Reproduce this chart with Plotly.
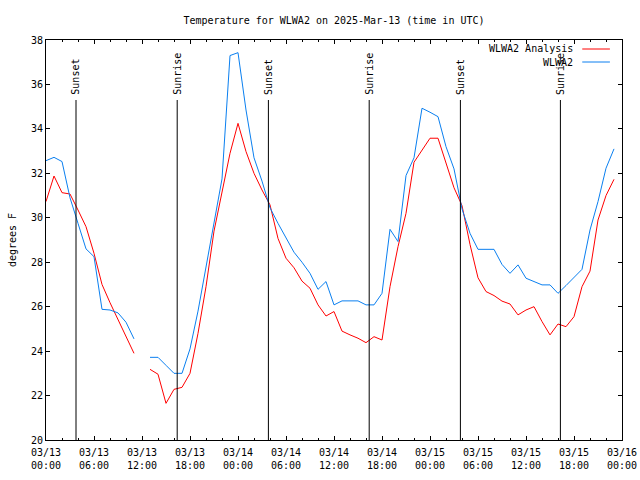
import plotly.graph_objects as go
import pandas as pd

# ---- data (hours since 2025-03-13 00:00 UTC) ----
hours = list(range(72))

analysis_f = [30.73, 31.88, 31.13, 31.07, 30.35, 29.6, 28.4, 27.0, 26.18, 25.4,
              24.65, 23.9, None, 23.18, 22.96, 21.65, 22.28, 22.37, 23.0, 24.8,
              26.9, 29.4, 31.15, 32.9, 34.25, 32.98, 32.0, 31.25, 30.58, 29.07,
              28.18, 27.75, 27.15, 26.83, 26.08, 25.58, 25.78, 24.9, 24.73, 24.58,
              24.38, 24.65, 24.5, 26.9, 28.7, 30.2, 32.5, 33.05, 33.58, 33.58,
              32.5, 31.35, 30.55, 28.8, 27.3, 26.68, 26.5, 26.25, 26.12, 25.63,
              25.85, 26.0, 25.33, 24.73, 25.22, 25.1, 25.55, 26.9, 27.6, 29.9,
              31.0, 31.73]

observed_f = [32.57, 32.72, 32.53, 30.9, 29.75, 28.6, 28.25, 25.88, 25.85, 25.72,
              25.3, 24.55, None, 23.72, 23.72, 23.36, 23.0, 23.0, 24.1, 25.8,
              27.8, 29.8, 31.75, 37.3, 37.43, 34.85, 32.7, 31.65, 30.45, 29.75,
              29.1, 28.45, 28.0, 27.5, 26.78, 27.13, 26.08, 26.26, 26.26, 26.26,
              26.08, 26.08, 26.6, 29.48, 28.93, 31.9, 32.7, 34.93, 34.75, 34.55,
              33.2, 32.2, 30.4, 29.3, 28.58, 28.58, 28.58, 27.9, 27.5, 27.88,
              27.28, 27.13, 26.98, 26.98, 26.6, 26.95, 27.3, 27.68, 29.45, 30.73,
              32.23, 33.1]

event_hours = [3.75, 16.4, 27.8, 40.4, 51.8, 64.3]
event_labels = ["Sunset", "Sunrise", "Sunset", "Sunrise", "Sunset", "Sunrise"]

series_names = ["WLWA2 Analysis", "WLWA2"]
series_colors = ["#ff0000", "#0a7ff0"]

base = pd.Timestamp("2025-03-13 00:00")
times = [base + pd.Timedelta(hours=h) for h in hours]
event_times = [base + pd.Timedelta(hours=h) for h in event_hours]

FONT = "DejaVu Sans Mono"

fig = go.Figure()
for name, vals, col in zip(series_names, [analysis_f, observed_f], series_colors):
    fig.add_trace(go.Scatter(x=times, y=vals, mode="lines", name=name,
                             line=dict(color=col, width=1), connectgaps=False,
                             showlegend=False))

shapes = []
annotations = []
for t, lab in zip(event_times, event_labels):
    shapes.append(dict(type="line", xref="x", yref="y", x0=t, x1=t, y0=20, y1=35.3,
                       line=dict(color="black", width=1)))
    annotations.append(dict(x=t, y=35.45, xref="x", yref="y", text=lab, textangle=-90,
                            showarrow=False, xanchor="center", yanchor="bottom",
                            font=dict(family=FONT, size=10, color="black")))

# legend (gnuplot style: text then sample line on the right)
leg_y = [0.9775, 0.945]
for name, col, ly in zip(series_names, series_colors, leg_y):
    annotations.append(dict(x=0.9184, y=ly, xref="paper", yref="paper", text=name,
                            showarrow=False, xanchor="right", yanchor="middle",
                            font=dict(family=FONT, size=10, color="black")))
    shapes.append(dict(type="line", xref="paper", yref="paper", x0=0.931, x1=0.979,
                       y0=ly, y1=ly, line=dict(color=col, width=1)))

fig.update_layout(
    width=640, height=480,
    margin=dict(l=46, r=18, t=40, b=40, autoexpand=False),
    paper_bgcolor="white", plot_bgcolor="white",
    font=dict(family=FONT, size=10, color="black"),
    title=dict(text="Temperature for WLWA2 on 2025-Mar-13 (time in UTC)",
               x=0.5, xref="paper", y=1 - 20 / 480, yref="container",
               xanchor="center", yanchor="middle",
               font=dict(family=FONT, size=10, color="black")),
    shapes=shapes, annotations=annotations,
    showlegend=False,
)
fig.update_xaxes(
    type="date", range=[base, base + pd.Timedelta(hours=72)], automargin=False,
    dtick=6 * 3600 * 1000, tick0=base, tickformat="%m/%d<br>%H:%M",
    ticks="inside", ticklen=4, tickcolor="black", mirror="allticks",
    showline=True, linecolor="black", linewidth=1, showgrid=False, zeroline=False,
    minor=dict(dtick=2 * 3600 * 1000, ticks="inside", ticklen=2, tickcolor="black", showgrid=False),
    tickfont=dict(family=FONT, size=10), ticklabelstandoff=3,
)
fig.update_yaxes(
    range=[20, 38], dtick=2, ticks="inside", ticklen=4, tickcolor="black", automargin=False,
    mirror="allticks", showline=True, linecolor="black", linewidth=1,
    showgrid=False, zeroline=False,
    title=dict(text="degrees F", font=dict(family=FONT, size=10), standoff=12),
    tickfont=dict(family=FONT, size=10),
)

fig.write_html("out.html")
